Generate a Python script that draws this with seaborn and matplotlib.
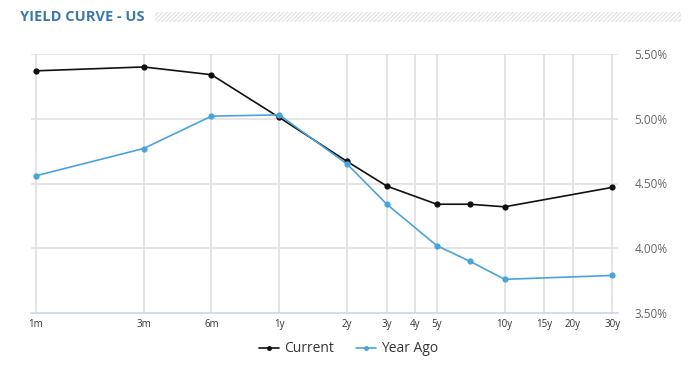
import numpy as np
import pandas as pd
import seaborn as sns
from matplotlib import pyplot as plt
from matplotlib.patches import Rectangle

# maturities in months
maturity_months = [1, 3, 6, 12, 24, 36, 60, 84, 120, 360]
current = [5.37, 5.40, 5.34, 5.01, 4.67, 4.48, 4.34, 4.34, 4.32, 4.47]
year_ago = [4.56, 4.77, 5.02, 5.03, 4.65, 4.34, 4.02, 3.90, 3.76, 3.79]

tick_months = [1, 3, 6, 12, 24, 36, 48, 60, 120, 180, 240, 360]
tick_labels = ['1m', '3m', '6m', '1y', '2y', '3y', '4y', '5y', '10y', '15y', '20y', '30y']
y_ticks = [3.5, 4.0, 4.5, 5.0, 5.5]

df = pd.DataFrame({
    'months': maturity_months * 2,
    'yield': current + year_ago,
    'series': ['Current'] * len(current) + ['Year Ago'] * len(year_ago),
})

sns.set_style('white')
plt.rcParams['font.family'] = ['Open Sans', 'DejaVu Sans']
plt.rcParams['hatch.linewidth'] = 1.0

W, H = 693, 369
fig = plt.figure(figsize=(W / 100, H / 100), dpi=100)
ax = fig.add_axes([31 / W, 1 - 313 / H, (618 - 31) / W, (313 - 54) / H])

palette = {'Current': '#111111', 'Year Ago': '#4ba3dc'}
sns.lineplot(data=df, x='months', y='yield', hue='series', palette=palette,
             marker='o', markersize=4.5, markeredgewidth=0, linewidth=1.2,
             ax=ax, zorder=3)

ax.set_xscale('log')
ax.set_xlim(0.95, 382)
ax.set_ylim(3.5, 5.5)
ax.minorticks_off()

ax.set_xticks(tick_months)
ax.set_xticklabels(tick_labels)
ax.set_yticks(y_ticks)
ax.set_yticklabels([f'{v:.2f}%' for v in y_ticks])
ax.yaxis.tick_right()
ax.tick_params(axis='y', length=0, pad=12, labelsize=8.5, labelcolor='#666666')
ax.tick_params(axis='x', length=0, pad=4, labelsize=7, labelcolor='#333333')

# grid: vertical lines only inside data span, horizontal lines full width
for m in tick_months:
    ax.axvline(m, color='#dcdcdc', linewidth=1.1, zorder=1)
for v in y_ticks[1:]:
    ax.axhline(v, color='#e0e0e0', linewidth=1.2, zorder=1)

for s in ['top', 'right', 'left']:
    ax.spines[s].set_visible(False)
ax.spines['bottom'].set_color('#ccd6eb')
ax.spines['bottom'].set_linewidth(1.2)

ax.set_xlabel('')
ax.set_ylabel('')

leg = ax.legend(loc='upper center', bbox_to_anchor=(349 / W, 1 - 329 / H),
                bbox_transform=fig.transFigure, ncol=2, frameon=False,
                fontsize=10, handlelength=1.4, columnspacing=1.6,
                handletextpad=0.4, markerscale=0.8)
for t in leg.get_texts():
    t.set_color('#333333')

fig.text(20 / W, 1 - 17 / H, 'YIELD CURVE - US', color='#3a78b0',
         fontsize=10.5, fontweight='bold', va='center', ha='left')
fig.patches.append(Rectangle((155 / W, 1 - 22 / H), (681 - 155) / W, 10 / H,
                             transform=fig.transFigure, figure=fig,
                             hatch='////////', fill=False,
                             edgecolor='#e6e6e6', linewidth=0))

fig.savefig('out.png', dpi=100)
